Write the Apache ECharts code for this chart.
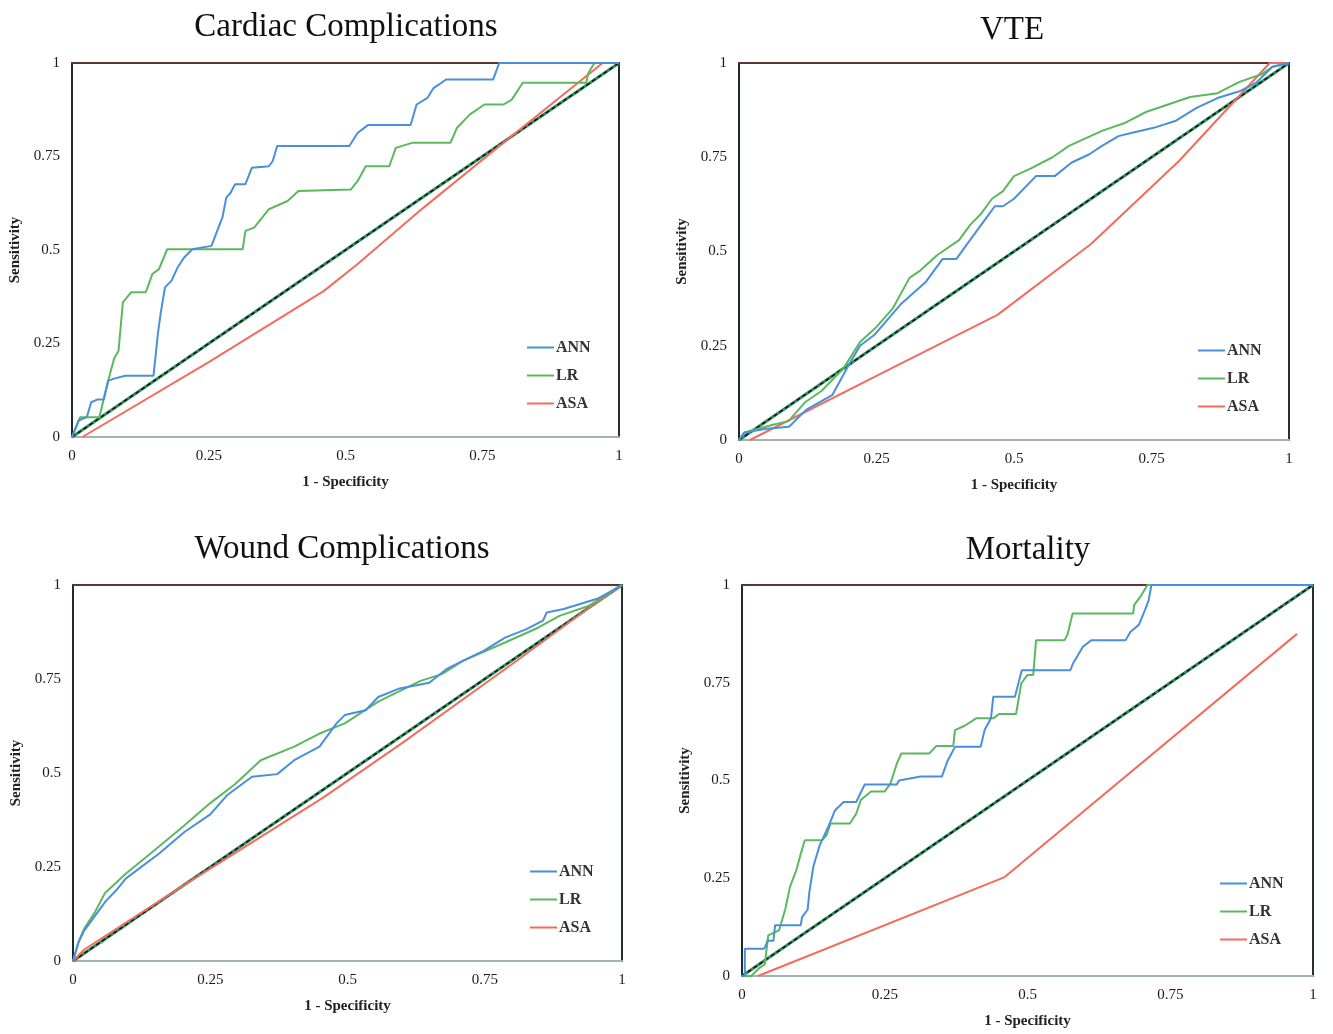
<!DOCTYPE html>
<html>
<head>
<meta charset="utf-8">
<script src="https://cdn.jsdelivr.net/npm/echarts@6/dist/echarts.min.js"></script>
<style>
  html, body { margin: 0; padding: 0; background: #fff; }
  #main { width: 1333px; height: 1034px; }
</style>
</head>
<body>
<div id="main"></div>
<script>
// axis ticks (0 .. 1, every 0.25)
var tickValues = [0, 0.25, 0.5, 0.75, 1];
var legendNames = ["ANN", "LR", "ASA"];
var panelTitles = ["Cardiac Complications", "VTE", "Wound Complications", "Mortality"];
var diagonal = [[0, 0], [1, 1]];

// Cardiac Complications  [1 - specificity, sensitivity]
var cardiacANN = [[0,0],[0.012,0.044],[0.027,0.053],[0.035,0.093],[0.046,0.1],[0.058,0.1],[0.066,0.15],[0.077,0.156],[0.097,0.164],[0.149,0.164],[0.157,0.276],[0.162,0.33],[0.17,0.4],[0.182,0.418],[0.193,0.453],[0.205,0.48],[0.22,0.502],[0.255,0.511],[0.263,0.542],[0.275,0.587],[0.282,0.64],[0.29,0.653],[0.298,0.676],[0.317,0.676],[0.329,0.72],[0.36,0.724],[0.367,0.738],[0.375,0.778],[0.507,0.778],[0.522,0.813],[0.541,0.834],[0.619,0.834],[0.63,0.889],[0.65,0.907],[0.661,0.933],[0.684,0.956],[0.77,0.956],[0.781,1],[1,1]];
var cardiacLR = [[0,0],[0.015,0.053],[0.05,0.053],[0.066,0.15],[0.077,0.21],[0.085,0.23],[0.093,0.36],[0.108,0.387],[0.135,0.387],[0.147,0.436],[0.159,0.449],[0.174,0.502],[0.312,0.502],[0.317,0.551],[0.333,0.56],[0.36,0.609],[0.394,0.631],[0.414,0.658],[0.51,0.662],[0.522,0.684],[0.537,0.724],[0.58,0.724],[0.592,0.773],[0.623,0.787],[0.692,0.787],[0.704,0.827],[0.727,0.862],[0.754,0.889],[0.789,0.889],[0.804,0.902],[0.824,0.947],[0.94,0.947],[0.944,0.973],[0.955,1],[1,1]];
var cardiacASA = [[0.019,0],[0.25,0.2],[0.46,0.39],[0.52,0.46],[0.64,0.61],[0.8,0.8],[0.97,1],[1,1]];

// VTE
var vteANN = [[0,0],[0.01,0.02],[0.05,0.03],[0.091,0.035],[0.122,0.08],[0.17,0.12],[0.2,0.2],[0.22,0.25],[0.247,0.28],[0.294,0.36],[0.34,0.42],[0.37,0.48],[0.395,0.48],[0.42,0.53],[0.45,0.59],[0.465,0.62],[0.48,0.62],[0.5,0.64],[0.54,0.7],[0.574,0.7],[0.605,0.736],[0.637,0.758],[0.66,0.78],[0.69,0.806],[0.715,0.815],[0.754,0.828],[0.793,0.846],[0.832,0.881],[0.87,0.907],[0.91,0.925],[0.94,0.947],[0.956,0.97],[0.97,0.99],[1,1]];
var vteLR = [[0,0],[0.01,0.02],[0.06,0.04],[0.09,0.05],[0.12,0.1],[0.15,0.13],[0.19,0.19],[0.22,0.26],[0.25,0.3],[0.28,0.35],[0.31,0.43],[0.33,0.45],[0.36,0.49],[0.4,0.53],[0.42,0.57],[0.44,0.6],[0.46,0.64],[0.48,0.66],[0.5,0.7],[0.53,0.72],[0.57,0.75],[0.6,0.78],[0.63,0.8],[0.66,0.82],[0.7,0.84],[0.74,0.87],[0.78,0.89],[0.82,0.91],[0.87,0.92],[0.91,0.95],[0.95,0.97],[0.97,0.99],[1,1]];
var vteASA = [[0.02,0],[0.25,0.17],[0.47,0.332],[0.64,0.52],[0.8,0.74],[0.965,1],[1,1]];

// Wound Complications
var woundANN = [[0,0],[0.01,0.05],[0.02,0.08],[0.04,0.12],[0.06,0.16],[0.08,0.19],[0.096,0.219],[0.157,0.286],[0.203,0.343],[0.25,0.39],[0.28,0.44],[0.326,0.49],[0.372,0.497],[0.403,0.534],[0.449,0.57],[0.48,0.632],[0.495,0.654],[0.533,0.667],[0.556,0.702],[0.595,0.725],[0.649,0.74],[0.68,0.776],[0.71,0.798],[0.748,0.825],[0.787,0.86],[0.825,0.882],[0.856,0.905],[0.863,0.927],[0.894,0.936],[0.925,0.95],[0.956,0.964],[1,1]];
var woundLR = [[0,0],[0.01,0.05],[0.02,0.085],[0.04,0.13],[0.058,0.18],[0.096,0.232],[0.134,0.277],[0.2,0.357],[0.25,0.42],[0.295,0.47],[0.342,0.534],[0.403,0.57],[0.449,0.605],[0.495,0.632],[0.556,0.69],[0.633,0.745],[0.672,0.763],[0.71,0.798],[0.787,0.847],[0.848,0.887],[0.886,0.918],[0.94,0.945],[1,1]];
var woundASA = [[0,0],[0.02,0.03],[0.2,0.2],[0.455,0.434],[0.6,0.58],[0.8,0.79],[0.95,0.95],[1,1]];

// Mortality
var mortANN = [[0,0],[0.005,0],[0.005,0.07],[0.039,0.07],[0.045,0.09],[0.055,0.09],[0.058,0.13],[0.103,0.13],[0.105,0.15],[0.115,0.17],[0.118,0.215],[0.125,0.28],[0.136,0.334],[0.151,0.381],[0.163,0.424],[0.178,0.445],[0.2,0.445],[0.215,0.49],[0.271,0.49],[0.275,0.5],[0.313,0.51],[0.35,0.51],[0.36,0.55],[0.373,0.586],[0.418,0.586],[0.425,0.63],[0.436,0.659],[0.44,0.714],[0.478,0.714],[0.49,0.782],[0.575,0.782],[0.58,0.8],[0.597,0.842],[0.612,0.859],[0.672,0.859],[0.68,0.88],[0.695,0.898],[0.706,0.937],[0.712,0.96],[0.717,1],[1,1]];
var mortLR = [[0,0],[0.016,0],[0.03,0.02],[0.04,0.03],[0.046,0.104],[0.065,0.117],[0.076,0.172],[0.084,0.228],[0.095,0.27],[0.103,0.313],[0.11,0.347],[0.14,0.347],[0.148,0.36],[0.155,0.39],[0.189,0.39],[0.2,0.415],[0.208,0.45],[0.226,0.472],[0.25,0.472],[0.26,0.492],[0.271,0.543],[0.279,0.569],[0.328,0.569],[0.34,0.588],[0.37,0.588],[0.373,0.629],[0.39,0.64],[0.41,0.659],[0.44,0.659],[0.45,0.67],[0.48,0.67],[0.489,0.748],[0.5,0.77],[0.51,0.77],[0.515,0.859],[0.565,0.859],[0.57,0.873],[0.579,0.927],[0.685,0.927],[0.687,0.949],[0.699,0.973],[0.71,1],[1,1]];
var mortASA = [[0.028,0],[0.46,0.253],[0.972,0.875]];

var panelData = [
  [cardiacANN, cardiacLR, cardiacASA],
  [vteANN, vteLR, vteASA],
  [woundANN, woundLR, woundASA],
  [mortANN, mortLR, mortASA]
];

// plot boxes in px: left, top, width, height
var boxes = [
  [72, 63, 547, 374],
  [739, 63, 550, 377],
  [73, 585, 549, 376],
  [742, 585, 571, 391]
];
var titlePos = [[341, 6], [1007, 9], [337, 528], [1023, 529]];
var legendPos = [[527, 339], [1198, 342], [530, 863], [1220, 875]];
var colors = { ANN: "#4a8fdc", LR: "#5cb85f", ASA: "#f36b5c" };
var serif = "'Liberation Serif', 'DejaVu Serif', serif";

var myChart = echarts.init(document.getElementById("main"));

var grid = [], xAxis = [], yAxis = [], series = [], title = [], legend = [];
var step = tickValues[1] - tickValues[0];

boxes.forEach(function (b, i) {
  grid.push({
    left: b[0], top: b[1], width: b[2], height: b[3],
    show: true, borderColor: "#26302f", borderWidth: 2, backgroundColor: "#fff"
  });
  // bottom axis
  xAxis.push({
    gridIndex: i, type: "value", min: tickValues[0], max: tickValues[tickValues.length - 1], interval: step,
    name: "1 - Specificity", nameLocation: "middle", nameGap: 38,
    nameTextStyle: { fontFamily: serif, fontWeight: "bold", fontSize: 15, color: "#222" },
    axisLine: { onZero: false, lineStyle: { color: "#a3b2b7", width: 2 } },
    axisTick: { show: false },
    splitLine: { show: false },
    axisLabel: { margin: 12, fontFamily: serif, fontSize: 15, color: "#1a1a1a" }
  });
  // top edge of the box
  xAxis.push({
    gridIndex: i, type: "value", position: "top", min: 0, max: 1,
    axisLine: { onZero: false, lineStyle: { color: "#5a3832", width: 2 } },
    axisTick: { show: false }, axisLabel: { show: false }, splitLine: { show: false }
  });
  yAxis.push({
    gridIndex: i, type: "value", min: tickValues[0], max: tickValues[tickValues.length - 1], interval: step,
    name: "Sensitivity", nameLocation: "middle", nameGap: 49,
    nameTextStyle: { fontFamily: serif, fontWeight: "bold", fontSize: 15, color: "#222" },
    axisLine: { show: true, onZero: false, lineStyle: { color: "#1f2a29", width: 2 } },
    axisTick: { show: false },
    splitLine: { show: false },
    axisLabel: { margin: 12, fontFamily: serif, fontSize: 15, color: "#1a1a1a" }
  });

  title.push({
    text: panelTitles[i], left: titlePos[i][0], top: titlePos[i][1], textAlign: "center",
    textStyle: { fontFamily: serif, fontWeight: "normal", fontSize: 33, color: "#111" }
  });

  legend.push({
    data: legendNames, orient: "vertical", left: legendPos[i][0], top: legendPos[i][1],
    padding: 0, icon: "rect", itemWidth: 27, itemHeight: 2, itemGap: 11,
    textStyle: { fontFamily: serif, fontWeight: "bold", fontSize: 16, color: "#333", lineHeight: 17, padding: [0, 0, 0, -3] },
    selectedMode: false
  });

  var xi = i * 2;
  // reference diagonal: green line with black dashes on top
  series.push({
    type: "line", xAxisIndex: xi, yAxisIndex: i, data: diagonal, showSymbol: false, silent: true,
    lineStyle: { color: "#2f8f5f", width: 3 }, z: 3
  });
  series.push({
    type: "line", xAxisIndex: xi, yAxisIndex: i, data: diagonal, showSymbol: false, silent: true,
    lineStyle: { color: "#111", width: 1.5, type: [4, 3] }, z: 4
  });
  var d = panelData[i];
  [2, 1, 0].forEach(function (k) {
    var nm = legendNames[k];
    series.push({
      name: nm, type: "line", xAxisIndex: xi, yAxisIndex: i, data: d[k],
      showSymbol: false, symbol: "none", color: colors[nm],
      lineStyle: { color: colors[nm], width: 2 }, z: 5
    });
  });
});

var option = {
  backgroundColor: "#fff",
  animation: false,
  title: title,
  legend: legend,
  grid: grid,
  xAxis: xAxis,
  yAxis: yAxis,
  series: series
};
option && myChart.setOption(option);
</script>
</body>
</html>
